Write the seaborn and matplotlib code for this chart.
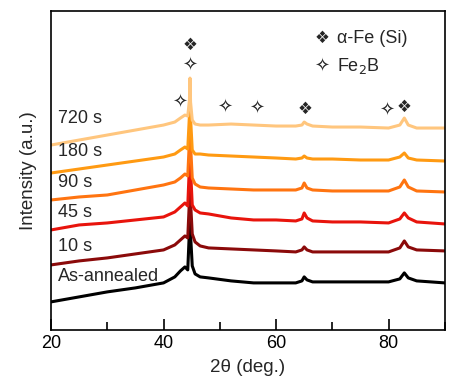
import numpy as np
import pandas as pd
import matplotlib
matplotlib.use("Agg")
import matplotlib.pyplot as plt
from matplotlib.ticker import MultipleLocator
import seaborn as sns

# 2theta positions (deg.)
two_theta = [20, 25, 30, 35, 40, 42, 43, 43.8, 44.3, 44.6, 44.7, 44.8, 45.1, 45.6,
             46.5, 48, 52, 56, 60, 63.5, 64.6, 65.0, 65.5, 66.5, 70, 75, 80, 82.0,
             82.8, 83.5, 85, 90]

# intensities (a.u., stacked offsets already included)
as_annealed = [28, 33, 38, 42, 47, 53, 59, 63, 60, 100, 130, 95, 64, 56,
               53, 52, 49, 47, 47, 47, 49, 53, 50, 48, 48, 48, 48, 51,
               57, 52, 49, 47]
s10 = [65, 69, 72, 76, 80, 85, 90, 94, 92, 130, 165, 128, 96, 88,
       84, 82, 81, 80, 79, 78, 80, 83, 80, 78, 78, 78, 78, 82,
       89, 83, 80, 79]
s45 = [100, 105, 107, 110, 113, 118, 123, 127, 124, 165, 200, 160, 125, 120,
       117, 116, 112, 110, 110, 109, 111, 117, 112, 109, 108, 108, 107, 111,
       117, 112, 108, 106]
s90 = [130, 133, 135, 140, 145, 148, 152, 156, 154, 190, 230, 185, 152, 146,
       143, 142, 141, 140, 140, 140, 142, 147, 142, 140, 139, 139, 139, 143,
       150, 143, 139, 138]
s180 = [157, 161, 165, 169, 173, 176, 180, 183, 181, 215, 245, 212, 180, 176,
        176, 175, 174, 173, 172, 171, 172, 174, 172, 171, 171, 170, 170, 173,
        177, 172, 170, 169]
s720 = [185, 190, 195, 200, 205, 208, 212, 215, 214, 230, 252, 228, 210, 206,
        205, 205, 206, 205, 204, 204, 205, 208, 206, 204, 203, 203, 202, 205,
        212, 205, 202, 202]

labels = ["As-annealed", "10 s", "45 s", "90 s", "180 s", "720 s"]
colors = ["#000000", "#8b0a0a", "#e8140c", "#ff7410", "#ff9a12", "#ffc67e"]
label_y = [53, 83, 117, 147, 179, 212]

alpha_fe_x = [44.7, 65.1, 82.7]
alpha_fe_y = [285, 221, 223]
fe2b_x = [42.9, 44.7, 50.9, 56.6, 79.7]
fe2b_y = [228, 265, 223, 222, 220]

df = pd.DataFrame({"two_theta": two_theta, "As-annealed": as_annealed, "10 s": s10,
                   "45 s": s45, "90 s": s90, "180 s": s180, "720 s": s720})
long_df = df.melt(id_vars="two_theta", var_name="sample", value_name="intensity")

sns.set_style("ticks")
plt.rcParams["font.family"] = ["Liberation Sans", "DejaVu Sans"]

fig = plt.figure(figsize=(4.6, 3.84), dpi=100)
ax = fig.add_axes([0.111, 0.141, 0.856, 0.830])

sns.lineplot(data=long_df, x="two_theta", y="intensity", hue="sample",
             hue_order=labels, palette=colors, linewidth=2.2, legend=False, ax=ax)

for lab, ly in zip(labels, label_y):
    ax.text(21.2, ly, lab, fontsize=13, va="center", ha="left")

sym = ["DejaVu Sans"]
for x, y in zip(alpha_fe_x, alpha_fe_y):
    ax.text(x, y, "\u2756", fontsize=12, ha="center", va="center", family=sym)
for x, y in zip(fe2b_x, fe2b_y):
    ax.text(x, y, "\u2727", fontsize=13, ha="center", va="center", family=sym)

ax.text(68.1, 292, "\u2756", fontsize=12, ha="center", va="center", family=sym)
ax.text(70.8, 292, "\u03b1-Fe (Si)", fontsize=13, ha="left", va="center")
ax.text(68.2, 264, "\u2727", fontsize=13, ha="center", va="center", family=sym)
ax.text(70.8, 264, "Fe$_2$B", fontsize=13, ha="left", va="center")

ax.set_xlim(20, 90)
ax.set_ylim(0, 319)
ax.set_yticks([])
ax.xaxis.set_major_locator(MultipleLocator(20))
ax.xaxis.set_minor_locator(MultipleLocator(10))
ax.tick_params(axis="x", which="major", direction="in", length=8, width=1.2,
               labelsize=13, colors="black", pad=4)
ax.tick_params(axis="x", which="minor", direction="in", length=5.5, width=1.2,
               colors="black")
for sp in ax.spines.values():
    sp.set_linewidth(1.2)
    sp.set_color("black")
ax.set_xlabel("2\u03b8 (deg.)", fontsize=13.5, labelpad=5)
ax.set_ylabel("Intensity (a.u.)", fontsize=13.5, labelpad=10)

fig.savefig("out.png", dpi=100)
